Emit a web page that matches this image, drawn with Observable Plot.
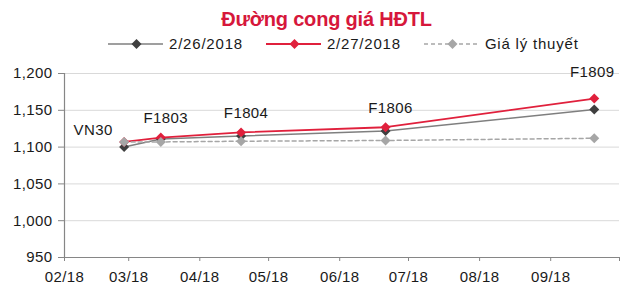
<!DOCTYPE html>
<html>
<head>
<meta charset="utf-8">
<script src="https://cdn.jsdelivr.net/npm/d3@7"></script>
<script src="https://cdn.jsdelivr.net/npm/@observablehq/plot@0.6"></script>
<style>
  html, body { margin: 0; padding: 0; background: #fff; }
  body { width: 641px; height: 307px; position: relative; overflow: hidden; font-family: "Liberation Sans", Arial, sans-serif; }
  #title { position: absolute; top: 4px; left: 0; width: 653px; text-align: center; line-height: 30px; font-size: 20px; font-weight: bold; letter-spacing: -0.2px; color: #d6173b; }
  #legend { position: absolute; top: 34px; left: 108px; height: 20px; display: flex; align-items: center; font-size: 15px; letter-spacing: 0.8px; color: #1a1a1a; line-height: 20px; }
  .item { display: flex; align-items: center; margin-right: 23px; }
  .item svg { margin-right: 6px; }
  #chart { position: absolute; top: 55px; left: 0; }
  #chart svg text { letter-spacing: 0.4px; }
</style>
</head>
<body>
<div id="title"></div>
<div id="legend"></div>
<div id="chart"></div>
<script>
const titleText = "Đường cong giá HĐTL";
const contracts = ["VN30", "F1803", "F1804", "F1806", "F1809"];
const dates = ["2018-02-27", "2018-03-15", "2018-04-19", "2018-06-21", "2018-09-20"];
const price0226 = [1100, 1111, 1115, 1122, 1151];
const price0227 = [1107, 1113, 1120, 1127, 1166];
const theory = [1107, 1107, 1108, 1109, 1112];
const seriesNames = ["2/26/2018", "2/27/2018", "Giá lý thuyết"];
const yTicks = [950, 1000, 1050, 1100, 1150, 1200];
const xTickDates = ["2018-02-01", "2018-03-01", "2018-04-01", "2018-05-01", "2018-06-01", "2018-07-01", "2018-08-01", "2018-09-01", "2018-10-01"];
const xTickLabels = ["02/18", "03/18", "04/18", "05/18", "06/18", "07/18", "08/18", "09/18", ""];

const parse = d3.utcParse("%Y-%m-%d");
const styles = [
  {line: "#7f7f7f", dot: "#3f3f3f", width: 1.5, dash: null},
  {line: "#e0203c", dot: "#e0203c", width: 1.8, dash: null},
  {line: "#a6a6a6", dot: "#a6a6a6", width: 1.5, dash: "4,3"}
];
const seriesValues = [price0226, price0227, theory];

const rows = [];
seriesValues.forEach((vals, s) => vals.forEach((v, i) => rows.push({
  series: seriesNames[s], s, contract: contracts[i], date: parse(dates[i]), value: v
})));
const labelRows = contracts.map((c, i) => ({contract: c, date: parse(dates[i]), value: price0227[i]}));

document.getElementById("title").textContent = titleText;
const legend = document.getElementById("legend");
seriesNames.forEach((name, s) => {
  const st = styles[s];
  const item = document.createElement("div");
  item.className = "item";
  item.innerHTML = `<svg width="55" height="20"><line x1="0" x2="55" y1="10" y2="10" stroke="${st.line}" stroke-width="${st.width}" ${st.dash ? `stroke-dasharray="${st.dash}"` : ""}/><path d="M28.5,5 L33.5,10 L28.5,15 L23.5,10 Z" fill="${st.dot}"/></svg><span>${name}</span>`;
  legend.appendChild(item);
});

const tickMap = new Map(xTickDates.map((d, i) => [+parse(d), xTickLabels[i]]));
const xDomain = [parse(xTickDates[0]), parse(xTickDates[xTickDates.length - 1])];
const axisColor = "#868686";

const marks = [
  Plot.ruleY(yTicks.slice(1), {stroke: "#d9d9d9", strokeWidth: 1}),
  Plot.ruleX([xDomain[0]], {stroke: axisColor, strokeWidth: 1.2}),
  Plot.ruleY([yTicks[0]], {stroke: axisColor, strokeWidth: 1.2}),
  Plot.axisY({ticks: yTicks, tickFormat: d3.format(","), tickSize: 6, tickPadding: 6, stroke: axisColor, fill: "#1a1a1a", fontSize: 15, label: null}),
  Plot.axisX({ticks: xTickDates.map(parse), tickFormat: d => tickMap.get(+d), tickSize: 4, tickPadding: 10, stroke: axisColor, fill: "#1a1a1a", fontSize: 15, label: null})
];
styles.forEach((st, s) => {
  const data = rows.filter(r => r.s === s);
  marks.push(Plot.line(data, {x: "date", y: "value", stroke: st.line, strokeWidth: st.width, strokeDasharray: st.dash || undefined}));
  marks.push(Plot.dot(data, {x: "date", y: "value", symbol: "diamond2", r: 4.5, fill: st.dot, stroke: "none"}));
});
const textStyle = {x: "date", y: "value", text: "contract", fontSize: 15, fill: "#1a1a1a"};
marks.push(Plot.text(labelRows.slice(0, 1), {...textStyle, dx: -31, dy: -12}));
marks.push(Plot.text(labelRows.slice(1, 4), {...textStyle, dx: 5, dy: -19}));
marks.push(Plot.text(labelRows.slice(4), {...textStyle, dx: -2, dy: -26}));

const chart = Plot.plot({
  width: 641,
  height: 252,
  marginTop: 18,
  marginBottom: 50,
  marginLeft: 64,
  marginRight: 22,
  style: {fontFamily: "'Liberation Sans', Arial, sans-serif", fontSize: "15px", background: "#fff"},
  x: {type: "utc", domain: xDomain},
  y: {domain: [950, 1200]},
  marks
});
document.getElementById("chart").appendChild(chart);
</script>
</body>
</html>
